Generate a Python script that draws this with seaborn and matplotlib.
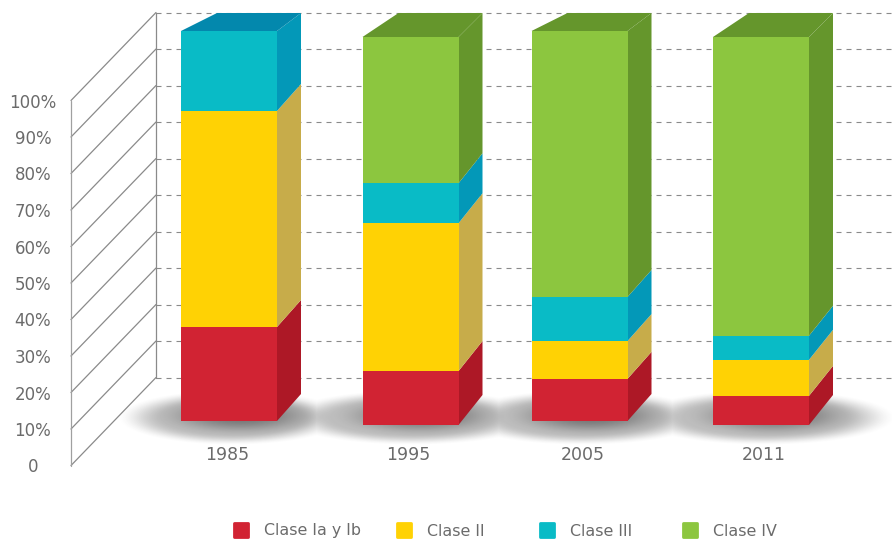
import numpy as np
import pandas as pd
import matplotlib
matplotlib.use("Agg")
import matplotlib.pyplot as plt
from matplotlib.lines import Line2D
from matplotlib.markers import MarkerStyle
import seaborn as sns

# ---- data (shares of each bar, %) ----
years = ["1985", "1995", "2005", "2011"]
clase_ia_ib = [24.1, 13.9, 10.8, 7.5]
clase_ii = [55.4, 38.1, 9.7, 9.3]
clase_iii = [20.5, 10.3, 11.3, 6.2]
clase_iv = [0.0, 37.7, 68.2, 77.0]
series_names = ["Clase Ia y Ib", "Clase II", "Clase III", "Clase IV"]
wall_ticks = [0, 10, 20, 30, 40, 50, 60, 70, 80, 90, 100]
wall_labels = ["0", "10%", "20%", "30%", "40%", "50%", "60%", "70%", "80%", "90%", "100%"]

# ---- styling / layout ----
front = ["#d12333", "#ffd204", "#09bbc6", "#8cc63f"]
side = ["#ad1826", "#c7ac4a", "#0398b8", "#65962c"]
top = ["#ad1826", "#c7ac4a", "#0388ad", "#65962c"]
TXT = "#6b6b6b"
GRID = "#8a8a8a"
PX = 3.65                         # pixels per wall percent
W, H = 892, 540
Y0 = 465.5                        # pixel row of wall 0
centres = [229, 410.5, 579.5, 761]
bar_w = 96
floors = [(Y0 - 421) / PX, (Y0 - 425) / PX, (Y0 - 421) / PX, (Y0 - 425) / PX]
spans = [390 / PX, 388 / PX, 390 / PX, 388 / PX]
rise_mid = [27 / PX, 30 / PX, 27 / PX, 30 / PX]
rise_top = [18 / PX, 24 / PX, 18 / PX, 24 / PX]
side_dx, top_dx = 24, 36
wall_x0, wall_x1 = 71, 156
wall_rise = 88 / PX
label_x = [227, 408, 583, 764]
legend_x = [233, 396, 539, 682]

sns.set_theme(style="white")
plt.rcParams["font.family"] = ["DejaVu Sans"]
fig = plt.figure(figsize=(W / 100, H / 100), dpi=100)
ax = fig.add_axes([0, 0, 1, 1])
ax.patch.set_alpha(0)

def row(px):
    return (Y0 - px) / PX

# walls and gridlines
for t in wall_ticks:
    ax.plot([wall_x0, wall_x1], [t, t + wall_rise], color=GRID, lw=0.9, zorder=1)
    ax.plot([wall_x1, W], [t + wall_rise] * 2, color=GRID, lw=0.8, dashes=(4.5, 4.5), zorder=1)
ax.plot([wall_x0, wall_x0], [0, 100], color="#a0a0a0", lw=0.9, zorder=1)
ax.plot([wall_x1, wall_x1], [wall_rise, 100 + wall_rise], color=GRID, lw=0.9, zorder=1)

# soft floor shadow: a broad plateau for each bar plus a darker core at its foot
xx, yy = np.meshgrid(np.arange(W), np.arange(H))

def smooth(v):
    v = np.clip(v, 0, 1)
    return v * v * (3 - 2 * v)

broad = np.zeros((H, W))
core = np.zeros((H, W))
for c, a in zip([232, 412, 582, 765], [116, 132, 128, 132]):
    d = np.sqrt(((xx - c) / a) ** 2 + ((yy - 417) / 28) ** 2)
    broad = np.maximum(broad, 0.32 * smooth((1 - d) / 0.4))
    d2 = np.sqrt(((xx - (c + 8)) / 92) ** 2 + ((yy - 415) / 22) ** 2)
    core = np.maximum(core, 0.50 * smooth((1 - d2) / 0.85))
alpha = 1 - (1 - broad) * (1 - core)
rgba = np.zeros((H, W, 4))
rgba[..., :3] = 0.2
rgba[..., 3] = alpha
ax.imshow(rgba, extent=[0, W, row(H), row(0)], origin="upper", aspect="auto", zorder=2)

# stacked bars
table = np.array([clase_ia_ib, clase_ii, clase_iii, clase_iv])
scale = np.array(spans) / 100
cum = np.array(floors, dtype=float)
n_series = len(series_names)
for i in range(n_series):
    heights = table[i] * scale
    df = pd.DataFrame({"x": centres, "h": heights})
    sns.barplot(data=df, x="x", y="h", native_scale=True, width=bar_w / 169, color=front[i],
                saturation=1, bottom=cum, linewidth=0, errorbar=None, legend=False, ax=ax, zorder=4)
    for j, c in enumerate(centres):
        if heights[j] <= 0:
            continue
        r = c + bar_w / 2
        is_top = i == n_series - 1 or table[i + 1:, j].sum() == 0
        low, high = cum[j], cum[j] + heights[j]
        up_hi = rise_top[j] if is_top else rise_mid[j]
        ax.fill([r, r + side_dx, r + side_dx, r],
                [low, low + rise_mid[j], high + up_hi, high],
                color=side[i], lw=0, zorder=3.5)
        if is_top:
            l = c - bar_w / 2
            ax.fill([l, r, r + side_dx, l + top_dx],
                    [high, high, high + up_hi, high + up_hi],
                    color=top[i], lw=0, zorder=3.5)
    cum = cum + heights

# axes: real ticks on hidden, repositioned spines
ax.set_xlim(0, W)
ax.set_ylim(row(H), row(0))
for s in ax.spines.values():
    s.set_visible(False)
ax.set_xlabel("")
ax.set_ylabel("")
ax.spines["left"].set_position(("data", 33))
ax.spines["bottom"].set_position(("data", row(446)))
ax.set_xticks(label_x, years)
ax.set_yticks(wall_ticks, wall_labels)
ax.tick_params(axis="both", length=0, pad=0, colors=TXT)
ax.tick_params(axis="x", labelsize=12.5)
ax.tick_params(axis="y", labelsize=12)
for lab in ax.get_yticklabels():
    lab.set_ha("center")

# legend: one entry per slot, since the slots are unevenly spaced
marker = MarkerStyle("s", joinstyle="round")
for name, col, lx in zip(series_names, front, legend_x):
    h = Line2D([], [], ls="", marker=marker, ms=10.5, mew=2, color=col, mec=col)
    leg = ax.legend([h], [name], frameon=False, loc="center left",
                    bbox_to_anchor=((lx - 3) / W, 1 - 531 / H), borderaxespad=0, borderpad=0,
                    handletextpad=0.75, handlelength=1.4, labelcolor=TXT,
                    prop={"size": 11.4})
    ax.add_artist(leg)
ax.legend_ = None

fig.savefig("out.png", dpi=100)
